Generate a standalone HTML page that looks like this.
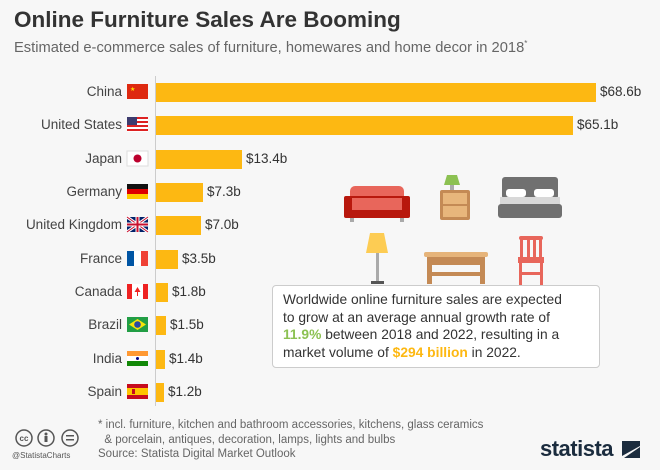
<!DOCTYPE html>
<html><head><meta charset="utf-8"><style>
body{margin:0;width:660px;height:470px;background:#f7f7f7;font-family:"Liberation Sans",sans-serif;position:relative;overflow:hidden;color:#333}
.a{position:absolute;white-space:nowrap}
.lbl{position:absolute;right:538px;font-size:13.5px;color:#444;text-align:right}
.bar{position:absolute;left:156px;height:19px;background:#fdb812}
.val{position:absolute;font-size:13.5px;color:#333}
</style></head><body>
<div class="a" style="left:14px;top:7px;font-size:22.5px;font-weight:bold;color:#333">Online Furniture Sales Are Booming</div>
<div class="a" style="left:14px;top:39px;font-size:14.7px;color:#666">Estimated e-commerce sales of furniture, homewares and home decor in 2018<sup style="font-size:8px">*</sup></div>
<div class="a" style="left:155px;top:76px;width:1px;height:330px;background:#ccc"></div>
<svg class="a" style="left:0;top:0" width="660" height="470">
<g transform="translate(127,84)"><rect width="21" height="15" fill="#de2910"/><text x="3" y="7" font-size="6" fill="#ffde00">★</text></g>
<g transform="translate(127,117)"><rect width="21" height="15" fill="#fff"/><g fill="#d22"><rect y="0" width="21" height="2"/><rect y="4" width="21" height="2"/><rect y="8" width="21" height="2"/><rect y="12" width="21" height="2"/></g><rect width="10" height="8" fill="#3c3b6e"/></g>
<g transform="translate(127,151)"><rect width="21" height="15" fill="#fff" stroke="#ddd"/><circle cx="10.5" cy="7.5" r="4" fill="#bc002d"/></g>
<g transform="translate(127,184)"><rect width="21" height="5" fill="#111"/><rect y="5" width="21" height="5" fill="#d00"/><rect y="10" width="21" height="5" fill="#fc0"/></g>
<g transform="translate(127,217)"><rect width="21" height="15" fill="#012169"/><path d="M0 0L21 15M21 0L0 15" stroke="#fff" stroke-width="3"/><path d="M0 0L21 15M21 0L0 15" stroke="#c8102e" stroke-width="1"/><path d="M10.5 0V15M0 7.5H21" stroke="#fff" stroke-width="4"/><path d="M10.5 0V15M0 7.5H21" stroke="#c8102e" stroke-width="2"/></g>
<g transform="translate(127,251)"><rect width="7" height="15" fill="#0055a4"/><rect x="7" width="7" height="15" fill="#fff"/><rect x="14" width="7" height="15" fill="#ef4135"/></g>
<g transform="translate(127,284)"><rect width="21" height="15" fill="#fff"/><rect width="5" height="15" fill="#e22"/><rect x="16" width="5" height="15" fill="#e22"/><path d="M10.5 3l3 5h-6z" fill="#e22"/><rect x="10" y="7" width="1" height="5" fill="#e22"/></g>
<g transform="translate(127,317)"><rect width="21" height="15" fill="#229e45"/><path d="M10.5 2L19 7.5 10.5 13 2 7.5z" fill="#f8e509"/><circle cx="10.5" cy="7.5" r="3.3" fill="#2b49a3"/></g>
<g transform="translate(127,351)"><rect width="21" height="5" fill="#f93"/><rect y="5" width="21" height="5" fill="#fff"/><rect y="10" width="21" height="5" fill="#128807"/><circle cx="10.5" cy="7.5" r="1.5" fill="#008"/></g>
<g transform="translate(127,384)"><rect width="21" height="15" fill="#c60b1e"/><rect y="4" width="21" height="7" fill="#ffc400"/><rect x="5" y="5" width="3" height="5" fill="#c60b1e"/></g>
<g transform="translate(344,184)"><rect x="6" y="2" width="54" height="16" rx="5" fill="#e8665b"/><rect x="0" y="12" width="66" height="22" rx="2" fill="#b8180d"/><rect x="8" y="14" width="50" height="12" fill="#e8665b"/><rect x="6" y="34" width="4" height="4" fill="#aaa"/><rect x="56" y="34" width="4" height="4" fill="#aaa"/></g>
<g transform="translate(440,175)"><path d="M7 0h10l3 10H4z" fill="#8cc152"/><rect x="10" y="10" width="4" height="5" fill="#aaa"/><rect x="0" y="15" width="30" height="30" rx="2" fill="#c48a55"/><rect x="3" y="18" width="24" height="11" fill="#e8b67c"/><rect x="3" y="31" width="24" height="11" fill="#e8b67c"/></g>
<g transform="translate(498,177)"><rect x="4" y="0" width="56" height="22" rx="3" fill="#707070"/><rect x="8" y="12" width="20" height="8" rx="3" fill="#fff"/><rect x="36" y="12" width="20" height="8" rx="3" fill="#fff"/><rect x="2" y="20" width="60" height="8" fill="#d8d8d8"/><rect x="0" y="27" width="64" height="14" rx="3" fill="#707070"/></g>
<g transform="translate(365,233)"><path d="M5 0h14l4 20H1z" fill="#fdcc53"/><rect x="11" y="20" width="3" height="28" fill="#aaa"/><rect x="6" y="48" width="13" height="3" fill="#555"/></g>
<g transform="translate(424,252)"><rect x="0" y="0" width="64" height="5" rx="2" fill="#e6b47a"/><rect x="3" y="5" width="58" height="8" fill="#c48a55"/><rect x="3" y="13" width="5" height="19" fill="#c48a55"/><rect x="56" y="13" width="5" height="19" fill="#c48a55"/><rect x="8" y="20" width="48" height="4" fill="#c48a55"/></g>
<g transform="translate(518,236)" fill="#e8665b"><rect x="1" y="0" width="24" height="4" rx="2"/><rect x="2" y="3" width="3" height="20"/><rect x="9" y="3" width="3" height="20"/><rect x="15" y="3" width="3" height="20"/><rect x="21" y="3" width="3" height="20"/><rect x="0" y="21" width="26" height="6"/><rect x="1" y="26" width="3" height="23"/><rect x="22" y="26" width="3" height="23"/><rect x="3" y="36" width="20" height="3"/></g>
<g fill="none" stroke="#555" stroke-width="1.5"><circle cx="24" cy="438" r="8"/><circle cx="46" cy="438" r="8"/><circle cx="70" cy="438" r="8"/></g>
<text x="24" y="441" font-size="8" fill="#555" text-anchor="middle" font-weight="bold">cc</text>
<circle cx="46" cy="434" r="1.5" fill="#555"/><rect x="44.5" y="436" width="3" height="6" fill="#555"/>
<rect x="66" y="435" width="8" height="1.5" fill="#555"/><rect x="66" y="439" width="8" height="1.5" fill="#555"/>
<path d="M622 441h18v17h-18z" fill="#f7f7f7"/><path d="M622 441h18v5l-18 10z M640 447v11h-16z" fill="#1b2c3e"/>
</svg>
<div class="lbl" style="top:84px">China</div>
<div class="lbl" style="top:117px">United States</div>
<div class="lbl" style="top:151px">Japan</div>
<div class="lbl" style="top:184px">Germany</div>
<div class="lbl" style="top:217px">United Kingdom</div>
<div class="lbl" style="top:251px">France</div>
<div class="lbl" style="top:284px">Canada</div>
<div class="lbl" style="top:317px">Brazil</div>
<div class="lbl" style="top:351px">India</div>
<div class="lbl" style="top:384px">Spain</div>
<div class="bar" style="top:83px;width:440px"></div><div class="val" style="top:84px;left:600px">$68.6b</div>
<div class="bar" style="top:116px;width:417px"></div><div class="val" style="top:117px;left:577px">$65.1b</div>
<div class="bar" style="top:150px;width:86px"></div><div class="val" style="top:151px;left:246px">$13.4b</div>
<div class="bar" style="top:183px;width:47px"></div><div class="val" style="top:184px;left:207px">$7.3b</div>
<div class="bar" style="top:216px;width:45px"></div><div class="val" style="top:217px;left:205px">$7.0b</div>
<div class="bar" style="top:250px;width:22px"></div><div class="val" style="top:251px;left:182px">$3.5b</div>
<div class="bar" style="top:283px;width:12px"></div><div class="val" style="top:284px;left:172px">$1.8b</div>
<div class="bar" style="top:316px;width:10px"></div><div class="val" style="top:317px;left:170px">$1.5b</div>
<div class="bar" style="top:350px;width:9px"></div><div class="val" style="top:351px;left:169px">$1.4b</div>
<div class="bar" style="top:383px;width:8px"></div><div class="val" style="top:384px;left:168px">$1.2b</div>
<div class="a" style="left:272px;top:285px;width:308px;height:66px;padding:5px 8px 10px 10px;background:#fff;border:1px solid #ccc;border-radius:4px;font-size:13.8px;line-height:17.5px;color:#333">Worldwide online furniture sales are expected<br>to grow at an average annual growth rate of<br><b style="color:#8cc152">11.9%</b> between 2018 and 2022, resulting in a<br>market volume of <b style="color:#fdb812">$294 billion</b> in 2022.</div>
<div class="a" style="left:98px;top:418px;font-size:11.5px;color:#666;line-height:14.5px">* incl. furniture, kitchen and bathroom accessories, kitchens, glass ceramics<br>&nbsp;&nbsp;&amp; porcelain, antiques, decoration, lamps, lights and bulbs</div>
<div class="a" style="left:98px;top:448px;font-size:11.5px;color:#666">Source: Statista Digital Market Outlook</div>
<div class="a" style="left:12px;top:451px;font-size:8px;color:#555">@StatistaCharts</div>
<div class="a" style="left:540px;top:436px;font-size:22px;font-weight:bold;color:#1b2c3e;letter-spacing:-0.5px">statista</div>
</body></html>
